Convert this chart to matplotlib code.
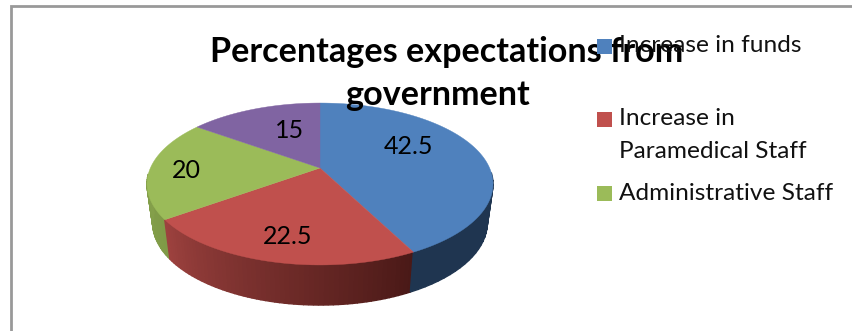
import numpy as np
import matplotlib
matplotlib.use('Agg')
import matplotlib.pyplot as plt
from matplotlib.patches import Polygon, Rectangle

values = [42.5, 22.5, 20, 15]
value_labels = ['42.5', '22.5', '20', '15']
legend_names = ['Increase in funds', 'Increase in\nParamedical Staff', 'Administrative Staff']
top_colors = ['#4F81BD', '#C0504D', '#9BBB59', '#8064A2']
title_lines = ['Percentages expectations from', 'government']

plt.rcParams['font.family'] = ['Lato', 'DejaVu Sans']

fig = plt.figure(figsize=(8.52, 3.31), dpi=100)
ax = fig.add_axes([0, 0, 1, 1])
ax.set_xlim(0, 852)
ax.set_ylim(331, 0)
ax.axis('off')

# perspective projection of the unit circle, theta runs clockwise from 12 o'clock
k = 0.1975
def rim(theta, A, B, cy):
    u = np.sin(theta)
    v = np.cos(theta)
    w = 1 + k * v
    return 320 + A * u / w, cy - B * v / w

TOP = (169.6, 77.8, 168)
BOTTOM = (164, 79, 206.6)

edges = np.cumsum([0] + values) / sum(values) * 2 * np.pi

# side wall, the back of the pie is skipped so it cannot peek round the top face
side_from = ['#1F3550', '#9C413E', '#8AA64E', '#5F4A7A']
side_to = ['#1F3550', '#4A1917', '#7F9A47', '#5F4A7A']
front_start, front_end = np.radians(95), np.radians(265)
for i in range(len(values)):
    th = np.linspace(edges[i], edges[i + 1], 60)
    c0 = np.array(matplotlib.colors.to_rgb(side_from[i]))
    c1 = np.array(matplotlib.colors.to_rgb(side_to[i]))
    # red wall runs dark towards the right, so walk it backwards
    for j in range(len(th) - 1):
        if th[j + 1] < front_start or th[j] > front_end:
            continue
        t = j / (len(th) - 2)
        col = c1 * (1 - t) + c0 * t
        x0, y0 = rim(th[j:j + 2], *TOP)
        x1, y1 = rim(th[j:j + 2], *BOTTOM)
        pts = np.column_stack([np.r_[x0, x1[::-1]], np.r_[y0, y1[::-1]]])
        ax.add_patch(Polygon(pts, closed=True, fc=col, ec=col, lw=1.0, zorder=2 + j / 1000))

# top face
for i in range(len(values)):
    th = np.linspace(edges[i], edges[i + 1], 200)
    x, y = rim(th, *TOP)
    pts = np.column_stack([np.r_[320, x], np.r_[168, y]])
    ax.add_patch(Polygon(pts, closed=True, fc=top_colors[i], ec=top_colors[i], lw=0.3, zorder=3))

label_pos = [(408, 147), (288, 237), (186, 171), (290, 131)]
for s, (lx, ly) in zip(value_labels, label_pos):
    ax.text(lx, ly, s, fontsize=18, color='black', ha='center', va='center', zorder=4)

for line, tx, ty in zip(title_lines, [447, 437], [52, 95]):
    ax.text(tx, ty, line, fontsize=24.6, fontweight='bold', color='black',
            ha='center', va='center', zorder=5)

# legend, the last slice has no entry
legend_y = [46, 119, 193]
text_y = [46, 135, 193]
for name, c, sy, ty in zip(legend_names, top_colors, legend_y, text_y):
    ax.add_patch(Rectangle((597, sy - 7.5), 15, 15, fc=c, ec='none', zorder=6))
    ax.text(619, ty, name, fontsize=17.6, color='#111111', ha='left', va='center',
            linespacing=1.65, zorder=6)

# outer frame, runs off to the right and bottom
ax.plot([11, 11, 852], [331, 6, 6], color='#999999', lw=2, zorder=1, solid_joinstyle='miter')

fig.savefig('out.png', dpi=100)
